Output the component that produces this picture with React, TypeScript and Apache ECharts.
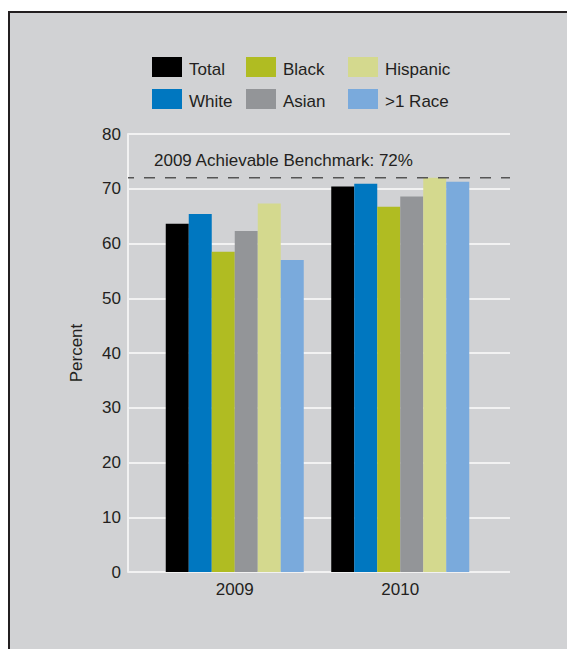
import React, { useEffect, useRef } from "react";
import * as echarts from "echarts";

const categories = ["2009", "2010"];
const seriesNames = ["Total", "White", "Black", "Asian", "Hispanic", ">1 Race"];
const seriesColors = ["#000000", "#0077c0", "#b0bc22", "#939598", "#d4d98e", "#7aaadc"];
const totalValues = [63.6, 70.4];
const whiteValues = [65.4, 70.9];
const blackValues = [58.5, 66.7];
const asianValues = [62.3, 68.6];
const hispanicValues = [67.3, 72.0];
const multiRaceValues = [57.0, 71.3];
const benchmarkValue = 72;
const benchmarkLabel = "2009 Achievable Benchmark";
const yTicks = [0, 10, 20, 30, 40, 50, 60, 70, 80];

const allValues = [totalValues, whiteValues, blackValues, asianValues, hispanicValues, multiRaceValues];

const TEXT = "#231f20";
const FONT = "'Liberation Sans', Arial, Helvetica, sans-serif";

export default function App() {
  const ref = useRef<HTMLDivElement>(null);
  useEffect(() => {
    if (!ref.current) return;
    const chart = echarts.init(ref.current, undefined, { renderer: "svg" });
    const legendPos = [
      { name: "Total", left: 152, top: 57 },
      { name: "Black", left: 246, top: 57 },
      { name: "Hispanic", left: 348, top: 57 },
      { name: "White", left: 152, top: 89 },
      { name: "Asian", left: 246, top: 89 },
      { name: ">1 Race", left: 348, top: 89 },
    ];
    const option: any = {
      animation: false,
      backgroundColor: "#ffffff",
      textStyle: { fontFamily: FONT },
      graphic: [
        {
          type: "rect",
          z: -10,
          silent: true,
          shape: { x: 9, y: 12, width: 620, height: 700 },
          style: { fill: "#d1d2d4", stroke: "#231f20", lineWidth: 2 },
        },
        {
          type: "text",
          x: 154,
          y: 152,
          style: {
            text: `${benchmarkLabel}: ${benchmarkValue}%`,
            fill: TEXT,
            font: `17px ${FONT}`,
            verticalAlign: "top",
          },
        },
      ],
      legend: legendPos.map((l) => ({
        data: [l.name],
        left: l.left,
        top: l.top,
        padding: 0,
        itemWidth: 30,
        itemHeight: 20,
        icon: "rect",
        selectedMode: false,
        formatter: "{a|{name}}",
        textStyle: {
          fontSize: 17,
          color: TEXT,
          fontFamily: FONT,
          rich: { a: { fontSize: 17, color: TEXT, fontFamily: FONT, padding: [4, 0, 0, 2] } },
        },
      })),
      grid: [
        { left: 128, right: 57, top: 134, bottom: 77 },
        { left: 152, right: 84, top: 134, bottom: 77 },
      ],
      xAxis: [
        { type: "value", gridIndex: 0, min: 0, max: 1, show: false },
        {
          type: "category",
          gridIndex: 1,
          data: categories,
          axisLine: { show: false },
          axisTick: { show: false },
          axisLabel: { fontSize: 17, color: TEXT, margin: 9, fontFamily: FONT },
        },
      ],
      yAxis: [
        {
          type: "value",
          gridIndex: 0,
          min: yTicks[0],
          max: yTicks[yTicks.length - 1],
          interval: 10,
          name: "Percent",
          nameLocation: "middle",
          nameGap: 43,
          nameTextStyle: { fontSize: 17, color: TEXT, fontFamily: FONT },
          axisLine: { show: true, lineStyle: { color: "#f2f2f2", width: 2 } },
          axisTick: { show: false },
          axisLabel: { fontSize: 17, color: TEXT, margin: 7, fontFamily: FONT },
          splitLine: { show: true, lineStyle: { color: "#f2f2f2", width: 2 } },
        },
        {
          type: "value",
          gridIndex: 1,
          min: yTicks[0],
          max: yTicks[yTicks.length - 1],
          interval: 10,
          show: false,
          splitLine: { show: false },
        },
      ],
      series: [
        {
          type: "line",
          name: "benchmark",
          xAxisIndex: 0,
          yAxisIndex: 0,
          data: [
            [0, benchmarkValue],
            [1, benchmarkValue],
          ],
          symbol: "none",
          silent: true,
          z: 5,
          lineStyle: { color: "#555555", width: 1.5, type: [11, 10], dashOffset: 5 },
        },
        ...seriesNames.map((name, i) => ({
          type: "bar",
          name,
          xAxisIndex: 1,
          yAxisIndex: 1,
          data: allValues[i],
          barWidth: 23,
          barGap: "0%",
          itemStyle: { color: seriesColors[i] },
          z: 2,
        })),
      ],
    };
    chart.setOption(option);
    return () => chart.dispose();
  }, []);
  return (
    <div
      ref={ref}
      style={{ position: "absolute", left: 0, top: 0, width: 567, height: 649 }}
    />
  );
}
